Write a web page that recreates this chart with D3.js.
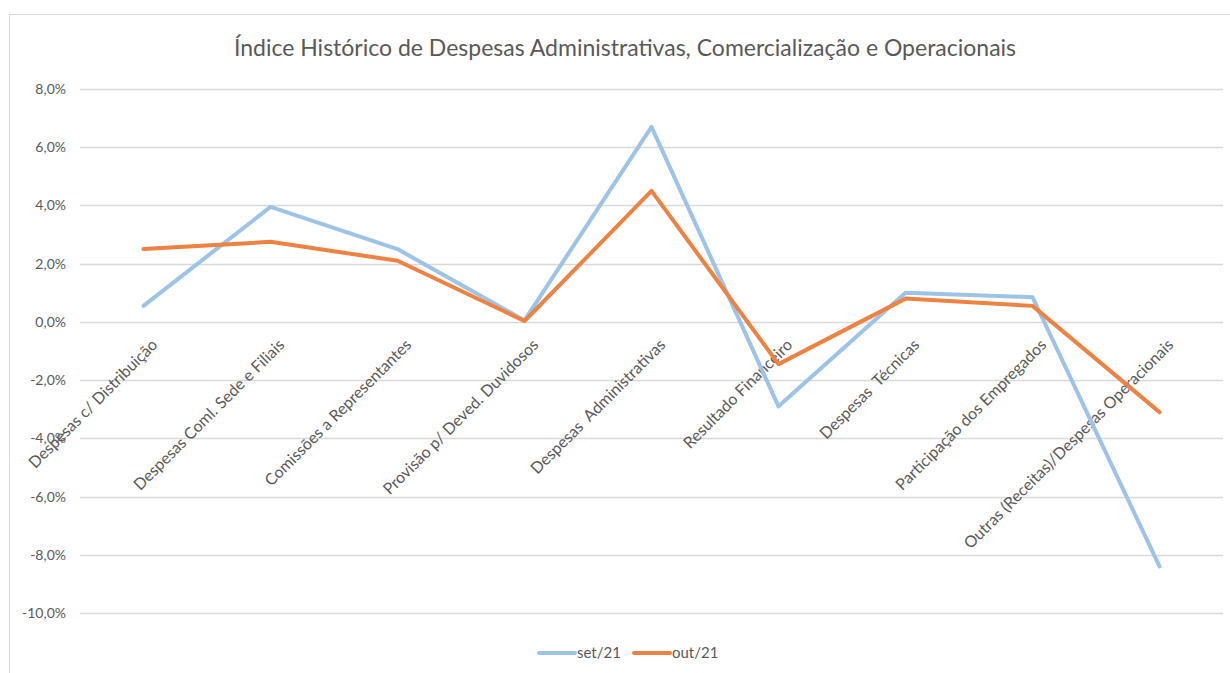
<!DOCTYPE html>
<html>
<head>
<meta charset="utf-8">
<script src="https://cdn.jsdelivr.net/npm/d3@7"></script>
<style>
  body { margin: 0; background: #fff; }
  text { font-family: Lato, "Open Sans", sans-serif; fill: #595959; }
</style>
</head>
<body>
<div id="chart"></div>
<script>
const categories = [
  "Despesas c/ Distribuição",
  "Despesas Coml. Sede e Filiais",
  "Comissões a Representantes",
  "Provisão p/ Deved. Duvidosos",
  "Despesas  Administrativas",
  "Resultado Financeiro",
  "Despesas  Técnicas",
  "Participação dos Empregados",
  "Outras (Receitas)/Despesas Operacionais"
];
const set21 = [0.55, 3.95, 2.5, 0.05, 6.7, -2.9, 1.0, 0.85, -8.4];
const out21 = [2.5, 2.75, 2.1, 0.03, 4.5, -1.45, 0.8, 0.55, -3.1];
const yTicks = [8, 6, 4, 2, 0, -2, -4, -6, -8, -10];
const seriesNames = ["set/21", "out/21"];
const colors = ["#9dc3e6", "#ee8242"];

const width = 1230, height = 673;
const margin = {top: 89, right: 7, bottom: 60, left: 80};

const svg = d3.select("#chart").append("svg")
  .attr("width", width)
  .attr("height", height);

// chart frame
svg.append("rect")
  .attr("x", 9.5).attr("y", 14.5)
  .attr("width", width).attr("height", height)
  .attr("fill", "none")
  .attr("stroke", "#d9d9d9");

svg.append("text")
  .attr("x", 625).attr("y", 56)
  .attr("text-anchor", "middle")
  .style("font-size", "23px")
  .text("Índice Histórico de Despesas Administrativas, Comercialização e Operacionais");

const xScale = d3.scaleBand()
  .domain(categories)
  .range([margin.left, width - margin.right]);

const yScale = d3.scaleLinear()
  .domain([-10, 8])
  .range([613, 89]);

// gridlines
svg.append("g")
  .selectAll("line")
  .data(yTicks)
  .enter()
  .append("line")
  .attr("x1", margin.left)
  .attr("x2", width - margin.right)
  .attr("y1", d => Math.round(yScale(d)) + 0.5)
  .attr("y2", d => Math.round(yScale(d)) + 0.5)
  .attr("stroke", "#d9d9d9")
  .attr("stroke-width", 1.3);

const fmt = d => d3.format(".1f")(d).replace(".", ",").replace("−", "-") + "%";

const yAxis = d3.axisLeft(yScale).tickValues(yTicks).tickSize(0).tickPadding(14).tickFormat(fmt);
const gY = svg.append("g")
  .attr("transform", `translate(${margin.left},0)`)
  .call(yAxis);
gY.select(".domain").remove();
gY.selectAll("text").style("font-size", "14px").style("font-family", "Lato, sans-serif").attr("fill", "#595959");

// category labels on the zero line
const xAxis = d3.axisBottom(xScale).tickSize(0).tickPadding(0);
const gX = svg.append("g")
  .attr("transform", `translate(0,${yScale(0)})`)
  .call(xAxis);
gX.select(".domain").remove();
gX.selectAll("text")
  .style("font-size", "16px")
  .style("font-family", "Lato, sans-serif")
  .style("white-space", "pre")
  .attr("fill", "#595959")
  .attr("text-anchor", "end")
  .attr("dy", 0)
  .attr("y", 0)
  .attr("transform", "translate(15,24) rotate(-45)");

const line = d3.line()
  .x((d, i) => xScale(categories[i]) + xScale.bandwidth() / 2)
  .y(d => yScale(d));

[set21, out21].forEach((s, k) => {
  svg.append("path")
    .datum(s)
    .attr("fill", "none")
    .attr("stroke", colors[k])
    .attr("stroke-width", 4)
    .attr("stroke-linejoin", "round")
    .attr("stroke-linecap", "round")
    .attr("d", line);
});

// legend
const legend = svg.append("g").attr("transform", "translate(539,653)");
const legendX = [0, 95];
seriesNames.forEach((name, k) => {
  const g = legend.append("g").attr("transform", `translate(${legendX[k]},0)`);
  g.append("line")
    .attr("x1", 0).attr("x2", 36)
    .attr("y1", 0).attr("y2", 0)
    .attr("stroke", colors[k])
    .attr("stroke-width", 4)
    .attr("stroke-linecap", "round");
  g.append("text")
    .attr("x", 38).attr("y", 5)
    .style("font-size", "15px")
    .text(name);
});
</script>
</body>
</html>
